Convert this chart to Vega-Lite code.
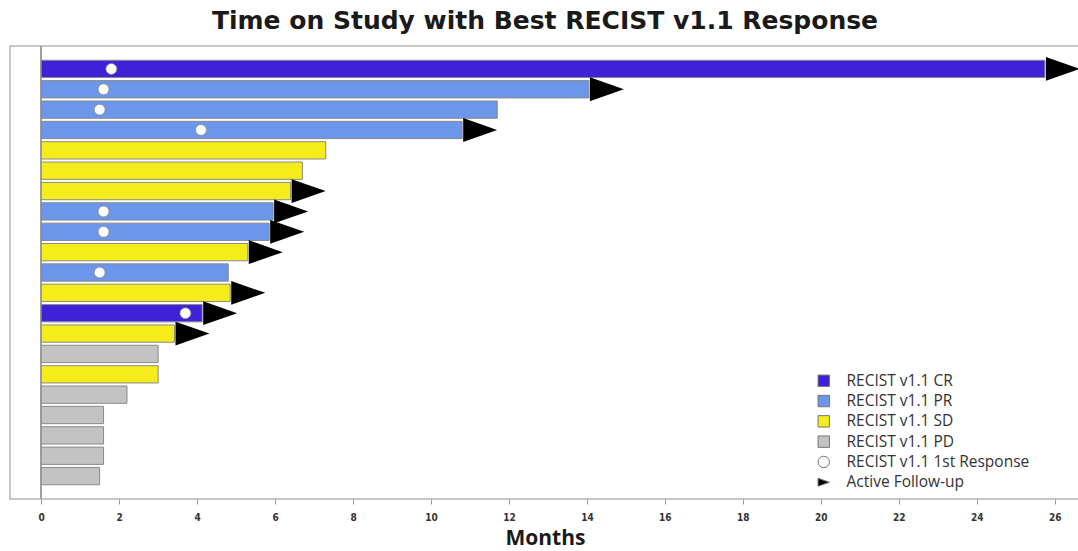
{
  "$schema": "https://vega.github.io/schema/vega-lite/v6.json",
  "width": 1070,
  "height": 453,
  "autosize": {"type": "none"},
  "padding": {"left": 10, "top": 46, "right": 0, "bottom": 52},
  "background": "white",
  "title": {
    "text": "Time on Study with Best RECIST v1.1 Response",
    "font": "DejaVu Sans",
    "fontSize": 25,
    "fontWeight": "bold",
    "color": "#1a1a1a",
    "anchor": "middle",
    "offset": 11
  },
  "config": {
    "view": {"stroke": "#b5b5b5", "strokeWidth": 1.5},
    "legend": {
      "orient": "none",
      "legendX": 806,
      "legendY": 327,
      "padding": 0,
      "labelFont": "Open Sans",
      "labelFontSize": 15.5,
      "labelColor": "#333333",
      "labelLimit": 400,
      "symbolSize": 130,
      "symbolStrokeColor": "#777777",
      "symbolStrokeWidth": 1,
      "rowPadding": 3.3,
      "labelOffset": 15
    }
  },
  "data": {
    "values": [
      {"id": "P01", "resp": "RECIST v1.1 CR", "end": 25.75, "first": 1.8, "active": true},
      {"id": "P02", "resp": "RECIST v1.1 PR", "end": 14.05, "first": 1.6, "active": true},
      {"id": "P03", "resp": "RECIST v1.1 PR", "end": 11.7, "first": 1.5, "active": false},
      {"id": "P04", "resp": "RECIST v1.1 PR", "end": 10.8, "first": 4.1, "active": true},
      {"id": "P05", "resp": "RECIST v1.1 SD", "end": 7.3, "first": null, "active": false},
      {"id": "P06", "resp": "RECIST v1.1 SD", "end": 6.7, "first": null, "active": false},
      {"id": "P07", "resp": "RECIST v1.1 SD", "end": 6.4, "first": null, "active": true},
      {"id": "P08", "resp": "RECIST v1.1 PR", "end": 5.95, "first": 1.6, "active": true},
      {"id": "P09", "resp": "RECIST v1.1 PR", "end": 5.85, "first": 1.6, "active": true},
      {"id": "P10", "resp": "RECIST v1.1 SD", "end": 5.3, "first": null, "active": true},
      {"id": "P11", "resp": "RECIST v1.1 PR", "end": 4.8, "first": 1.5, "active": false},
      {"id": "P12", "resp": "RECIST v1.1 SD", "end": 4.85, "first": null, "active": true},
      {"id": "P13", "resp": "RECIST v1.1 CR", "end": 4.13, "first": 3.7, "active": true},
      {"id": "P14", "resp": "RECIST v1.1 SD", "end": 3.42, "first": null, "active": true},
      {"id": "P15", "resp": "RECIST v1.1 PD", "end": 3.0, "first": null, "active": false},
      {"id": "P16", "resp": "RECIST v1.1 SD", "end": 3.0, "first": null, "active": false},
      {"id": "P17", "resp": "RECIST v1.1 PD", "end": 2.2, "first": null, "active": false},
      {"id": "P18", "resp": "RECIST v1.1 PD", "end": 1.6, "first": null, "active": false},
      {"id": "P19", "resp": "RECIST v1.1 PD", "end": 1.6, "first": null, "active": false},
      {"id": "P20", "resp": "RECIST v1.1 PD", "end": 1.6, "first": null, "active": false},
      {"id": "P21", "resp": "RECIST v1.1 PD", "end": 1.5, "first": null, "active": false}
    ]
  },
  "encoding": {
    "y": {
      "field": "id",
      "type": "nominal",
      "sort": null,
      "axis": null,
      "scale": {"paddingInner": 0.15, "paddingOuter": 0.7}
    }
  },
  "layer": [
    {
      "mark": {"type": "rule", "color": "#a0a0a0", "strokeWidth": 1.5},
      "encoding": {"x": {"datum": 0, "type": "quantitative"}, "y": null}
    },
    {
      "mark": {"type": "bar", "stroke": "#8a8a8a", "strokeWidth": 1, "opacity": 1},
      "encoding": {
        "x": {
          "field": "end",
          "type": "quantitative",
          "scale": {"domain": [-0.8, 26.65], "nice": false, "zero": false},
          "axis": {
            "title": "Months",
            "values": [0, 2, 4, 6, 8, 10, 12, 14, 16, 18, 20, 22, 24, 26],
            "grid": false,
            "domain": false,
            "tickColor": "#999999",
            "tickSize": 5,
            "labelFont": "DejaVu Sans Condensed",
            "labelFontWeight": "bold",
            "labelFontSize": 10,
            "labelColor": "#333333",
            "labelPadding": 8,
            "titleFont": "Open Sans",
            "titleFontSize": 21,
            "titleFontWeight": "bold",
            "titleColor": "#1a1a1a",
            "titlePadding": 5
          }
        },
        "x2": {"datum": 0},
        "color": {
          "field": "resp",
          "type": "nominal",
          "title": null,
          "scale": {
            "domain": ["RECIST v1.1 CR", "RECIST v1.1 PR", "RECIST v1.1 SD", "RECIST v1.1 PD", "RECIST v1.1 1st Response", "Active Follow-up"],
            "range": ["#3f22d8", "#6b96ea", "#f5ec1c", "#c3c3c3", "#ffffff", "#000000"]
          }
        }
      }
    },
    {
      "transform": [{"filter": "datum.first != null"}],
      "mark": {"type": "point", "filled": true, "opacity": 1, "size": 120, "stroke": "#888888", "strokeWidth": 0.8},
      "encoding": {
        "x": {"field": "first", "type": "quantitative"},
        "color": {"datum": "RECIST v1.1 1st Response"},
        "shape": {
          "datum": "RECIST v1.1 1st Response",
          "scale": {
            "domain": ["RECIST v1.1 CR", "RECIST v1.1 PR", "RECIST v1.1 SD", "RECIST v1.1 PD", "RECIST v1.1 1st Response", "Active Follow-up"],
            "range": ["square", "square", "square", "square", "circle", "M-1,-0.7L1,0L-1,0.7Z"]
          }
        }
      }
    },
    {
      "transform": [{"filter": "datum.active"}],
      "mark": {"type": "point", "filled": true, "opacity": 1, "size": 1156, "xOffset": 18},
      "encoding": {
        "x": {"field": "end", "type": "quantitative"},
        "color": {"datum": "Active Follow-up"},
        "shape": {"datum": "Active Follow-up"}
      }
    }
  ]
}
